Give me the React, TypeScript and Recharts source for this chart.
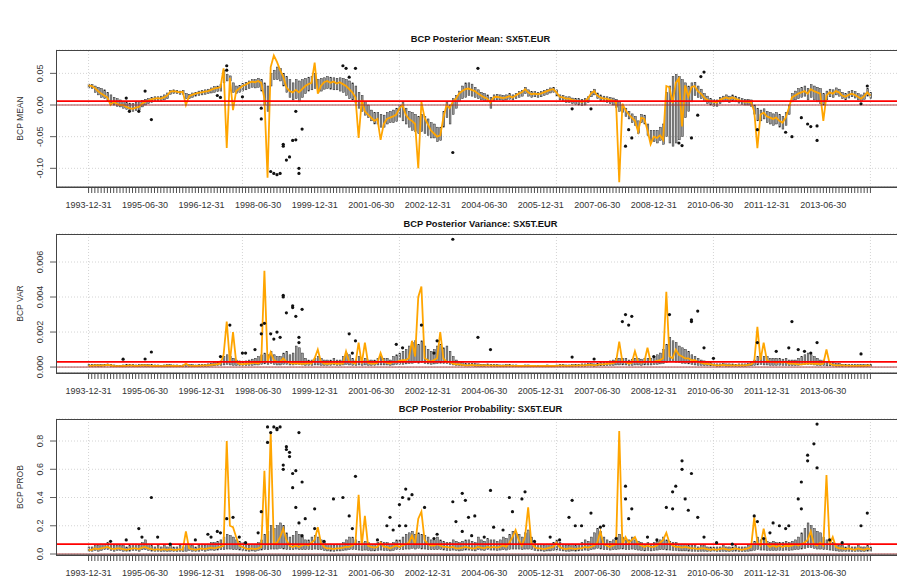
import React from "react";
import {
  ComposedChart,
  Bar,
  Line,
  XAxis,
  YAxis,
  CartesianGrid,
  ReferenceLine,
} from "recharts";

// monthly categories, month-end dates from 1993-12-31
const MONTHS = 250;
const dates = Array.from({ length: MONTHS }, (_, i) =>
  new Date(Date.UTC(1993, 12 + i, 0)).toISOString().slice(0, 10)
);

const xLabels = [
  "1993-12-31", "1995-06-30", "1996-12-31", "1998-06-30", "1999-12-31",
  "2001-06-30", "2002-12-31", "2004-06-30", "2005-12-31", "2007-06-30",
  "2008-12-31", "2010-06-30", "2011-12-31", "2013-06-30",
];
// R grid() verticals fall on every 50th box
const gridDates = [dates[0], dates[49], dates[99], dates[149], dates[199], dates[249]];

// ---------- BCP posterior mean ----------
const meanLine = [
  0.031, 0.03, 0.027, 0.022, 0.018, 0.015, 0.012, 0.0, 0.005, 0.002,
  0.0, 0.0, -0.003, -0.005, -0.006, -0.004, -0.003, 0.002, 0.005, 0.007,
  0.009, 0.01, 0.011, 0.01, 0.012, 0.015, 0.021, 0.022, 0.021, 0.02,
  0.021, 0.0, 0.014, 0.016, 0.018, 0.019, 0.02, 0.021, 0.022, 0.024,
  0.026, 0.027, 0.028, 0.058, -0.068, 0.043, -0.008, 0.022, 0.026, 0.03,
  0.032, 0.035, 0.037, 0.036, 0.038, 0.035, 0.01, -0.115, 0.06, 0.078,
  0.068, 0.055, 0.045, 0.028, 0.022, 0.02, 0.024, 0.02, 0.025, 0.03,
  0.033, 0.035, 0.067, 0.018, 0.03, 0.036, 0.038, 0.035, 0.037, 0.034,
  0.036, 0.033, 0.03, 0.025, 0.02, 0.012, -0.052, 0.008, -0.01, -0.015,
  -0.02, -0.025, -0.022, -0.055, -0.03, -0.022, -0.02, -0.018, -0.015, -0.005,
  0.0, -0.015, -0.022, -0.025, -0.03, -0.1, 0.005, -0.02, -0.03, -0.04,
  -0.045, -0.05, -0.048, -0.02, 0.0, -0.005, 0.005, 0.01, 0.018, 0.022,
  0.025, 0.026, 0.024, 0.022, 0.018, 0.015, 0.012, 0.01, 0.004, 0.012,
  0.013, 0.012, 0.011, 0.012, 0.014, 0.012, 0.015, 0.018, 0.02, 0.025,
  0.02, 0.017, 0.018, 0.017, 0.018, 0.02, 0.022, 0.024, 0.025, 0.02,
  0.013, 0.012, 0.01, 0.01, 0.008, 0.007, 0.006, 0.005, 0.006, 0.01,
  0.018, 0.022, 0.015, 0.012, 0.01, 0.01, 0.008, 0.007, 0.004, -0.122,
  0.002, -0.008, -0.015, -0.02, -0.025, -0.042, -0.02, -0.022, -0.04, -0.062,
  -0.05, -0.052, -0.048, -0.055, 0.03, 0.028, 0.003, 0.035, 0.042, -0.034,
  0.031, 0.013, 0.028, 0.03, 0.022, 0.018, 0.012, 0.008, 0.006, 0.005,
  0.004, 0.008, 0.01, 0.012, 0.01, 0.012, 0.01, 0.008, 0.006, 0.005,
  0.005, 0.004, -0.01, -0.068, -0.015, -0.012, -0.018, -0.02, -0.022, -0.02,
  -0.025, -0.028, -0.02, -0.005, 0.012, 0.015, 0.018, 0.02, 0.022, 0.018,
  0.025, 0.022, 0.02, 0.018, -0.025, 0.015, 0.02, 0.018, 0.022, 0.02,
  0.015, 0.013, 0.016, 0.018, 0.016, 0.013, 0.01, 0.014, 0.02, 0.015,
];
const meanHi = [
  0.033, 0.032, 0.03, 0.028, 0.026, 0.024, 0.02, 0.016, 0.012, 0.01,
  0.008, 0.006, 0.004, 0.003, 0.002, 0.004, 0.005, 0.007, 0.009, 0.01,
  0.012, 0.013, 0.013, 0.014, 0.016, 0.019, 0.023, 0.024, 0.023, 0.022,
  0.023, 0.018, 0.017, 0.019, 0.02, 0.022, 0.023, 0.024, 0.025, 0.027,
  0.029, 0.03, 0.032, 0.055, 0.048, 0.046, 0.035, 0.03, 0.031, 0.034,
  0.036, 0.038, 0.04, 0.04, 0.042, 0.04, 0.035, 0.03, 0.05, 0.055,
  0.06, 0.058, 0.05, 0.045, 0.04, 0.035, 0.04, 0.038, 0.04, 0.042,
  0.044, 0.045, 0.05, 0.04, 0.042, 0.043, 0.045, 0.044, 0.043, 0.042,
  0.043, 0.042, 0.04, 0.038, 0.035, 0.03, 0.02, 0.015, 0.005, 0.0,
  -0.008, -0.012, -0.012, -0.015, -0.016, -0.012, -0.01, -0.008, -0.005, 0.0,
  0.005, -0.005, -0.01, -0.012, -0.015, -0.018, -0.015, -0.018, -0.022, -0.028,
  -0.03, -0.035, -0.035, -0.01, 0.005, 0.0, 0.01, 0.015, 0.022, 0.03,
  0.035, 0.035, 0.033, 0.028, 0.024, 0.02, 0.018, 0.016, 0.012, 0.016,
  0.017, 0.016, 0.015, 0.016, 0.018, 0.016, 0.018, 0.021, 0.023, 0.028,
  0.024, 0.021, 0.021, 0.02, 0.021, 0.023, 0.025, 0.027, 0.028, 0.024,
  0.016, 0.015, 0.013, 0.013, 0.011, 0.01, 0.01, 0.009, 0.01, 0.013,
  0.021, 0.025, 0.019, 0.016, 0.014, 0.013, 0.012, 0.011, 0.009, 0.005,
  0.0, -0.005, -0.01, -0.014, -0.018, -0.025, -0.015, -0.016, -0.03, -0.04,
  -0.04, -0.04, -0.035, -0.03, 0.02, 0.03, 0.045, 0.048, 0.045, 0.04,
  0.035, 0.03, 0.035, 0.036, 0.03, 0.025, 0.018, 0.014, 0.01, 0.009,
  0.008, 0.012, 0.014, 0.016, 0.014, 0.016, 0.014, 0.012, 0.01, 0.009,
  0.009, 0.008, 0.0, -0.005, -0.008, -0.006, -0.01, -0.012, -0.014, -0.012,
  -0.015, -0.018, -0.012, 0.0, 0.018, 0.022, 0.026, 0.028, 0.03, 0.026,
  0.032, 0.03, 0.028, 0.026, 0.018, 0.022, 0.025, 0.024, 0.027, 0.025,
  0.02, 0.018, 0.021, 0.023, 0.021, 0.018, 0.016, 0.019, 0.026, 0.02,
];
const meanLo = [
  0.027, 0.026, 0.02, 0.016, 0.012, 0.01, 0.006, 0.003, 0.0, -0.002,
  -0.003, -0.005, -0.007, -0.009, -0.01, -0.009, -0.008, -0.003, 0.0, 0.002,
  0.004, 0.006, 0.007, 0.007, 0.008, 0.01, 0.017, 0.018, 0.018, 0.017,
  0.017, 0.01, 0.01, 0.012, 0.014, 0.015, 0.016, 0.017, 0.018, 0.019,
  0.02, 0.021, 0.022, 0.035, 0.038, 0.038, 0.02, 0.018, 0.02, 0.022,
  0.024, 0.026, 0.028, 0.027, 0.028, 0.022, 0.0, -0.01, 0.03, 0.04,
  0.04, 0.038, 0.03, 0.02, 0.012, 0.008, 0.01, 0.005, 0.012, 0.018,
  0.022, 0.024, 0.026, 0.02, 0.022, 0.025, 0.026, 0.025, 0.024, 0.024,
  0.022, 0.02, 0.015, 0.01, 0.008, 0.003, -0.005, -0.01, -0.016, -0.02,
  -0.025, -0.03, -0.03, -0.035, -0.035, -0.03, -0.028, -0.028, -0.026, -0.02,
  -0.025, -0.03, -0.035, -0.04, -0.042, -0.045, -0.042, -0.045, -0.048, -0.052,
  -0.052, -0.058, -0.056, -0.035, -0.02, -0.03, -0.015, -0.005, 0.005, 0.01,
  0.012, 0.015, 0.014, 0.012, 0.01, 0.008, 0.006, 0.005, -0.005, 0.006,
  0.008, 0.008, 0.007, 0.008, 0.009, 0.008, 0.01, 0.012, 0.014, 0.018,
  0.014, 0.012, 0.013, 0.012, 0.013, 0.015, 0.017, 0.019, 0.02, 0.014,
  0.008, 0.006, 0.004, 0.004, 0.002, 0.001, 0.0, -0.001, 0.0, 0.004,
  0.013, 0.016, 0.01, 0.006, 0.005, 0.004, 0.002, 0.0, -0.004, -0.01,
  -0.012, -0.018, -0.022, -0.028, -0.032, -0.045, -0.028, -0.03, -0.048, -0.058,
  -0.058, -0.06, -0.056, -0.062, -0.05, -0.06, -0.065, -0.06, -0.055, -0.05,
  -0.02, -0.01, 0.005, 0.015, 0.012, 0.01, 0.006, 0.002, 0.0, -0.002,
  -0.002, 0.002, 0.005, 0.006, 0.004, 0.006, 0.005, 0.003, 0.001, 0.0,
  0.0, -0.002, -0.015, -0.025, -0.025, -0.022, -0.028, -0.03, -0.032, -0.03,
  -0.035, -0.038, -0.032, -0.015, 0.005, 0.008, 0.01, 0.012, 0.014, 0.008,
  0.012, 0.008, 0.005, 0.002, 0.0, 0.008, 0.013, 0.012, 0.016, 0.014,
  0.01, 0.008, 0.011, 0.013, 0.011, 0.008, 0.005, 0.009, 0.014, 0.01,
];
// [month index, value]
const meanOutliers = [
  [12, 0.011], [13, -0.01], [16, -0.01], [18, 0.022], [20, -0.023],
  [41, 0.015], [42, 0.012], [44, 0.062], [44, 0.055], [49, 0.013],
  [55, -0.005], [55, -0.022], [58, -0.105], [59, -0.108], [60, -0.11],
  [61, -0.108], [62, -0.065], [62, -0.062], [63, -0.087], [64, -0.082],
  [65, -0.056], [66, -0.055], [66, -0.01], [67, -0.1], [67, -0.108],
  [68, -0.038], [81, 0.062], [82, 0.058], [83, 0.044], [85, 0.058],
  [116, -0.075], [124, 0.058], [154, -0.006], [160, -0.006],
  [171, -0.065], [172, -0.039], [173, -0.052], [188, -0.06], [189, -0.064],
  [192, -0.052], [194, -0.016], [195, 0.045], [196, 0.052], [213, -0.039],
  [222, -0.043], [224, -0.05], [227, -0.02], [229, -0.03], [230, -0.034],
  [232, -0.056], [232, -0.033], [246, 0.002], [248, 0.03],
];
const meanTicks = [-0.1, -0.05, 0, 0.05];
const meanLevel = 0.006;

// ---------- BCP posterior variance ----------
const varLine = [
  0.00008, 0.00007, 0.0001, 0.00009, 0.00008, 0.0001, 0.00012, 0.0001, 0.00006, 0.00005,
  0.00005, 0.00006, 0.00007, 0.00009, 0.00008, 0.00006, 0.00007, 0.0001, 0.00009, 0.00008,
  0.00007, 0.00006, 0.00006, 0.00005, 0.00006, 0.00008, 0.00007, 0.00006, 0.00006, 0.00005,
  0.00006, 0.0002, 0.00008, 0.00007, 0.00006, 0.00007, 0.00008, 0.00009, 0.0001, 0.00012,
  0.00014, 0.00016, 0.0002, 0.0007, 0.0026, 0.0003, 0.002, 0.0003, 0.00018, 0.00016,
  0.00018, 0.0002, 0.00022, 0.00025, 0.0002, 0.0003, 0.0055, 0.0003, 0.00085, 0.0004,
  0.0003, 0.0003, 0.0005, 0.0003, 0.00025, 0.0002, 0.00022, 0.0002, 0.00018, 0.0002,
  0.00022, 0.0002, 0.0005, 0.001, 0.0003, 0.0002, 0.00018, 0.0002, 0.00022, 0.00018,
  0.0002, 0.0002, 0.0009, 0.0003, 0.00025, 0.0002, 0.0014, 0.0002, 0.0014, 0.00025,
  0.0002, 0.0002, 0.00025, 0.0008, 0.0003, 0.00025, 0.0002, 0.0003, 0.0003, 0.00035,
  0.0004, 0.0004, 0.0005, 0.0015, 0.0006, 0.004, 0.0046, 0.0005, 0.0004, 0.0003,
  0.0004, 0.0005, 0.002, 0.0005, 0.0003, 0.0003, 0.0002, 0.00015, 0.00015, 0.00012,
  0.0001, 0.0001, 0.00012, 0.0001, 0.0001, 0.00009, 0.00009, 0.0001, 0.00008, 0.00008,
  0.00008, 0.00007, 0.00007, 0.00008, 0.00008, 0.00007, 0.00007, 0.00006, 0.00006, 0.00007,
  0.00007, 0.00006, 0.00006, 0.00005, 0.00006, 0.00006, 0.00007, 0.00006, 0.00006, 0.00007,
  0.00008, 0.00008, 0.00007, 0.00007, 0.00008, 0.00008, 0.00009, 0.0001, 0.0001, 0.00012,
  0.00012, 0.0001, 0.00012, 0.00015, 0.00015, 0.00018, 0.0002, 0.00022, 0.0003, 0.00145,
  0.0003, 0.0003, 0.0002, 0.00025, 0.0009, 0.0003, 0.00025, 0.0003, 0.0011, 0.0003,
  0.0003, 0.00035, 0.0004, 0.0005, 0.0043, 0.0006, 0.0005, 0.001, 0.0007, 0.0006,
  0.0005, 0.0005, 0.0004, 0.0004, 0.0003, 0.00025, 0.0002, 0.00018, 0.00015, 0.00012,
  0.0001, 0.0001, 0.00012, 0.0001, 0.0001, 0.0001, 0.00009, 0.0001, 0.0001, 0.0001,
  0.00012, 0.00015, 0.0003, 0.0023, 0.0004, 0.0014, 0.0004, 0.0003, 0.0003, 0.00025,
  0.0003, 0.00025, 0.0003, 0.0002, 0.0002, 0.00018, 0.00015, 0.00015, 0.00018, 0.0002,
  0.0002, 0.00018, 0.0002, 0.00015, 0.0002, 0.001, 0.0002, 0.00012, 0.0001, 0.0001,
  0.00009, 0.00008, 0.00008, 0.00007, 0.00007, 0.00008, 0.00007, 0.00007, 0.0001, 0.00008,
];
const varHi = [
  0.00015, 0.00014, 0.00016, 0.00015, 0.00014, 0.00016, 0.00018, 0.00016, 0.00012, 0.0001,
  0.0001, 0.00012, 0.00013, 0.00015, 0.00014, 0.00012, 0.00013, 0.00016, 0.00015, 0.00014,
  0.00013, 0.00012, 0.00012, 0.0001, 0.00012, 0.00014, 0.00013, 0.00012, 0.00012, 0.0001,
  0.00012, 0.00015, 0.00014, 0.00013, 0.00012, 0.00013, 0.00014, 0.00016, 0.00018, 0.0002,
  0.00025, 0.0003, 0.00035, 0.0006, 0.0007, 0.0006, 0.0005, 0.0004, 0.00035, 0.0003,
  0.00035, 0.0004, 0.00045, 0.0005, 0.0006, 0.0007, 0.0008, 0.0007, 0.0009, 0.0007,
  0.0006, 0.0006, 0.0008, 0.0009, 0.0007, 0.0008, 0.0012, 0.0011, 0.0008, 0.0005,
  0.0004, 0.0004, 0.0005, 0.0006, 0.0005, 0.0004, 0.0004, 0.0004, 0.0005, 0.0004,
  0.0004, 0.0006, 0.0008, 0.0007, 0.0005, 0.0004, 0.0006, 0.0004, 0.0005, 0.0004,
  0.0004, 0.0004, 0.0005, 0.0006, 0.0005, 0.0005, 0.0004, 0.0006, 0.0007, 0.0008,
  0.0009, 0.001, 0.0012, 0.0014, 0.0015, 0.0013, 0.0015, 0.0012, 0.001, 0.0009,
  0.001, 0.0012, 0.0013, 0.0011, 0.0012, 0.0009, 0.0006, 0.0004, 0.0003, 0.00025,
  0.0002, 0.0002, 0.00022, 0.0002, 0.00018, 0.00016, 0.00016, 0.00018, 0.00015, 0.00014,
  0.00014, 0.00012, 0.00012, 0.00014, 0.00014, 0.00012, 0.00012, 0.0001, 0.0001, 0.00012,
  0.00012, 0.0001, 0.0001, 0.0001, 0.0001, 0.0001, 0.00012, 0.0001, 0.0001, 0.00012,
  0.00014, 0.00014, 0.00012, 0.00012, 0.00014, 0.00014, 0.00016, 0.00018, 0.00018, 0.0002,
  0.0002, 0.00018, 0.0002, 0.00025, 0.00025, 0.0003, 0.00035, 0.0004, 0.0005, 0.0005,
  0.0005, 0.0005, 0.0004, 0.00045, 0.0005, 0.0005, 0.00045, 0.0005, 0.0005, 0.0005,
  0.0006, 0.0007, 0.0008, 0.001, 0.0013, 0.0017, 0.0015, 0.0014, 0.0012, 0.0011,
  0.001, 0.0009, 0.0007, 0.0006, 0.0005, 0.0004, 0.00035, 0.0003, 0.00025, 0.0002,
  0.00018, 0.00018, 0.0002, 0.00018, 0.00018, 0.00018, 0.00016, 0.00018, 0.00018, 0.00018,
  0.0002, 0.00025, 0.0004, 0.0006, 0.0007, 0.0006, 0.0006, 0.0005, 0.0005, 0.0005,
  0.0005, 0.00045, 0.0005, 0.0004, 0.0004, 0.0004, 0.0005, 0.0006, 0.0007, 0.0008,
  0.0007, 0.0006, 0.0005, 0.0004, 0.0004, 0.0003, 0.0003, 0.00025, 0.0002, 0.0002,
  0.00016, 0.00014, 0.00014, 0.00013, 0.00013, 0.00014, 0.00013, 0.00013, 0.00016, 0.00014,
];
const varLo = [
  0.00004, 0.00003, 0.00005, 0.00004, 0.00004, 0.00005, 0.00006, 0.00005, 0.00003, 0.00002,
  0.00002, 0.00003, 0.00003, 0.00004, 0.00004, 0.00003, 0.00003, 0.00005, 0.00004, 0.00004,
  0.00003, 0.00003, 0.00003, 0.00002, 0.00003, 0.00004, 0.00003, 0.00003, 0.00003, 0.00002,
  0.00003, 0.00004, 0.00004, 0.00003, 0.00003, 0.00003, 0.00004, 0.00004, 0.00005, 0.00006,
  0.00007, 0.00008, 0.0001, 0.00012, 0.00015, 0.00012, 0.0001, 0.00009, 0.00008, 0.00008,
  0.00009, 0.0001, 0.0001, 0.00012, 0.00012, 0.00015, 0.00018, 0.00015, 0.0002, 0.00015,
  0.00012, 0.00012, 0.00015, 0.00015, 0.00012, 0.00012, 0.00015, 0.00014, 0.00012, 0.0001,
  0.0001, 0.0001, 0.00012, 0.00012, 0.0001, 0.0001, 0.0001, 0.0001, 0.00012, 0.0001,
  0.0001, 0.00012, 0.00015, 0.00012, 0.0001, 0.0001, 0.00012, 0.0001, 0.00012, 0.0001,
  0.0001, 0.0001, 0.00012, 0.00012, 0.00012, 0.00012, 0.0001, 0.00012, 0.00014, 0.00015,
  0.00016, 0.00018, 0.0002, 0.00022, 0.00025, 0.00022, 0.00025, 0.0002, 0.00018, 0.00016,
  0.00018, 0.0002, 0.00022, 0.0002, 0.0002, 0.00016, 0.00012, 0.0001, 0.00008, 0.00007,
  0.00006, 0.00006, 0.00006, 0.00005, 0.00005, 0.00004, 0.00004, 0.00005, 0.00004, 0.00004,
  0.00004, 0.00003, 0.00003, 0.00004, 0.00004, 0.00003, 0.00003, 0.00003, 0.00003, 0.00003,
  0.00003, 0.00003, 0.00003, 0.00002, 0.00003, 0.00003, 0.00003, 0.00003, 0.00003, 0.00003,
  0.00004, 0.00004, 0.00003, 0.00003, 0.00004, 0.00004, 0.00004, 0.00005, 0.00005, 0.00006,
  0.00006, 0.00005, 0.00006, 0.00007, 0.00007, 0.00008, 0.0001, 0.0001, 0.00012, 0.00012,
  0.00012, 0.00012, 0.0001, 0.0001, 0.00012, 0.00012, 0.0001, 0.00012, 0.00012, 0.00012,
  0.00014, 0.00015, 0.00018, 0.0002, 0.00025, 0.0003, 0.0003, 0.00028, 0.00025, 0.00022,
  0.0002, 0.00018, 0.00015, 0.00012, 0.0001, 0.0001, 0.00008, 0.00008, 0.00007, 0.00006,
  0.00005, 0.00005, 0.00006, 0.00005, 0.00005, 0.00005, 0.00004, 0.00005, 0.00005, 0.00005,
  0.00006, 0.00007, 0.0001, 0.00012, 0.00014, 0.00012, 0.00012, 0.0001, 0.0001, 0.0001,
  0.0001, 0.0001, 0.0001, 0.00008, 0.00008, 0.00008, 0.0001, 0.00012, 0.00014, 0.00015,
  0.00014, 0.00012, 0.0001, 0.00008, 0.00008, 0.00007, 0.00007, 0.00006, 0.00005, 0.00005,
  0.00004, 0.00004, 0.00004, 0.00003, 0.00003, 0.00004, 0.00003, 0.00003, 0.00004, 0.00004,
];
const varOutliers = [
  [11, 0.00045], [18, 0.00046], [20, 0.00086], [42, 0.0006], [45, 0.0024],
  [49, 0.0008], [50, 0.0008], [53, 0.001], [55, 0.0024], [55, 0.0019],
  [56, 0.0025], [58, 0.0019], [59, 0.0016], [60, 0.002], [61, 0.0017],
  [62, 0.0041], [62, 0.004], [63, 0.0031], [65, 0.0035], [65, 0.0034],
  [66, 0.0029], [67, 0.0017], [67, 0.0014], [68, 0.0033], [83, 0.0019],
  [84, 0.0008], [85, 0.0015], [98, 0.0013], [100, 0.0011], [106, 0.0024],
  [110, 0.0008], [111, 0.0015], [116, 0.0073], [124, 0.0017], [128, 0.001],
  [154, 0.00057], [161, 0.00046], [170, 0.0026], [171, 0.003], [172, 0.0024],
  [173, 0.0029], [180, 0.0006], [185, 0.003], [192, 0.0027], [192, 0.0026],
  [194, 0.0032], [196, 0.0011], [199, 0.0005], [213, 0.0014], [219, 0.0009],
  [223, 0.0011], [224, 0.0026], [226, 0.001], [228, 0.0009], [230, 0.0008],
  [232, 0.0014], [246, 0.00075],
];
const varTicks = [0, 0.002, 0.004, 0.006];
const varLevel = 0.0003;

// ---------- BCP posterior probability ----------
const probLine = [
  0.03, 0.03, 0.04, 0.035, 0.04, 0.045, 0.05, 0.04, 0.035, 0.04,
  0.04, 0.035, 0.03, 0.035, 0.04, 0.04, 0.035, 0.045, 0.05, 0.04,
  0.035, 0.03, 0.035, 0.03, 0.035, 0.03, 0.035, 0.03, 0.03, 0.035,
  0.03, 0.16, 0.04, 0.035, 0.03, 0.035, 0.04, 0.035, 0.04, 0.045,
  0.04, 0.045, 0.05, 0.06, 0.8, 0.2, 0.19, 0.12, 0.06, 0.05,
  0.04, 0.035, 0.04, 0.035, 0.04, 0.05, 0.59, 0.06, 0.865, 0.07,
  0.08, 0.12, 0.18, 0.1, 0.06, 0.05, 0.06, 0.05, 0.06, 0.07,
  0.06, 0.08, 0.1, 0.19, 0.08, 0.05, 0.04, 0.04, 0.035, 0.04,
  0.04, 0.045, 0.05, 0.05, 0.06, 0.08, 0.42, 0.06, 0.27, 0.06,
  0.05, 0.045, 0.05, 0.08, 0.05, 0.05, 0.04, 0.05, 0.06, 0.05,
  0.06, 0.07, 0.08, 0.13, 0.07, 0.25, 0.3, 0.1, 0.07, 0.06,
  0.06, 0.07, 0.06, 0.05, 0.05, 0.045, 0.05, 0.04, 0.04, 0.045,
  0.05, 0.045, 0.04, 0.04, 0.05, 0.045, 0.04, 0.05, 0.045, 0.05,
  0.045, 0.05, 0.06, 0.05, 0.08, 0.12, 0.17, 0.1, 0.06, 0.12,
  0.33, 0.08, 0.05, 0.04, 0.04, 0.035, 0.04, 0.045, 0.05, 0.08,
  0.05, 0.04, 0.035, 0.04, 0.04, 0.035, 0.04, 0.04, 0.05, 0.045,
  0.05, 0.06, 0.08, 0.16, 0.07, 0.06, 0.05, 0.06, 0.07, 0.87,
  0.07, 0.12, 0.08, 0.1, 0.12, 0.07, 0.06, 0.05, 0.06, 0.05,
  0.05, 0.06, 0.08, 0.1, 0.15, 0.08, 0.06, 0.05, 0.05, 0.045,
  0.05, 0.045, 0.04, 0.04, 0.035, 0.04, 0.04, 0.035, 0.03, 0.035,
  0.03, 0.035, 0.04, 0.035, 0.03, 0.035, 0.04, 0.035, 0.03, 0.035,
  0.04, 0.05, 0.26, 0.08, 0.06, 0.18, 0.07, 0.05, 0.06, 0.05,
  0.06, 0.05, 0.06, 0.055, 0.06, 0.07, 0.06, 0.07, 0.08, 0.1,
  0.16, 0.07, 0.06, 0.08, 0.06, 0.56, 0.07, 0.12, 0.05, 0.04,
  0.04, 0.035, 0.04, 0.035, 0.03, 0.04, 0.035, 0.03, 0.04, 0.035,
];
const probHi = [
  0.05, 0.05, 0.06, 0.06, 0.07, 0.07, 0.08, 0.07, 0.06, 0.06,
  0.06, 0.06, 0.05, 0.06, 0.07, 0.07, 0.06, 0.08, 0.1, 0.07,
  0.06, 0.05, 0.06, 0.05, 0.06, 0.05, 0.06, 0.05, 0.05, 0.06,
  0.05, 0.07, 0.06, 0.06, 0.05, 0.06, 0.07, 0.06, 0.07, 0.08,
  0.08, 0.09, 0.1, 0.12, 0.14, 0.13, 0.12, 0.1, 0.09, 0.08,
  0.07, 0.06, 0.07, 0.07, 0.08, 0.1, 0.14, 0.16, 0.2, 0.18,
  0.2, 0.22, 0.2, 0.15, 0.12, 0.13, 0.16, 0.14, 0.12, 0.1,
  0.1, 0.12, 0.13, 0.12, 0.1, 0.08, 0.07, 0.07, 0.06, 0.07,
  0.07, 0.08, 0.1, 0.12, 0.12, 0.1, 0.09, 0.08, 0.09, 0.08,
  0.07, 0.07, 0.08, 0.09, 0.08, 0.08, 0.07, 0.08, 0.1, 0.1,
  0.12, 0.14, 0.15, 0.16, 0.14, 0.15, 0.14, 0.13, 0.12, 0.1,
  0.1, 0.12, 0.1, 0.09, 0.08, 0.08, 0.1, 0.09, 0.08, 0.09,
  0.1, 0.1, 0.09, 0.08, 0.12, 0.1, 0.09, 0.11, 0.1, 0.1,
  0.09, 0.1, 0.12, 0.11, 0.14, 0.16, 0.15, 0.14, 0.12, 0.15,
  0.17, 0.12, 0.08, 0.07, 0.07, 0.06, 0.07, 0.07, 0.08, 0.1,
  0.08, 0.07, 0.06, 0.06, 0.07, 0.06, 0.07, 0.08, 0.1, 0.09,
  0.12, 0.15, 0.18, 0.16, 0.12, 0.1, 0.09, 0.1, 0.12, 0.14,
  0.12, 0.1, 0.1, 0.12, 0.1, 0.09, 0.08, 0.07, 0.08, 0.07,
  0.08, 0.09, 0.1, 0.12, 0.1, 0.09, 0.08, 0.08, 0.07, 0.07,
  0.07, 0.06, 0.06, 0.06, 0.05, 0.06, 0.06, 0.05, 0.05, 0.05,
  0.05, 0.05, 0.06, 0.05, 0.05, 0.05, 0.06, 0.05, 0.05, 0.05,
  0.06, 0.07, 0.09, 0.12, 0.1, 0.1, 0.09, 0.08, 0.09, 0.08,
  0.08, 0.08, 0.09, 0.08, 0.09, 0.1, 0.12, 0.15, 0.18, 0.22,
  0.2, 0.18, 0.16, 0.15, 0.12, 0.1, 0.09, 0.08, 0.07, 0.06,
  0.06, 0.05, 0.06, 0.05, 0.05, 0.06, 0.05, 0.05, 0.06, 0.05,
];
const probLo = [
  0.02, 0.02, 0.025, 0.02, 0.025, 0.03, 0.03, 0.025, 0.02, 0.025,
  0.025, 0.02, 0.02, 0.02, 0.025, 0.025, 0.02, 0.03, 0.03, 0.025,
  0.02, 0.02, 0.02, 0.018, 0.02, 0.018, 0.02, 0.018, 0.018, 0.02,
  0.018, 0.02, 0.025, 0.02, 0.018, 0.02, 0.025, 0.02, 0.025, 0.028,
  0.025, 0.028, 0.03, 0.03, 0.035, 0.035, 0.03, 0.03, 0.028, 0.025,
  0.022, 0.02, 0.022, 0.02, 0.025, 0.028, 0.03, 0.03, 0.035, 0.035,
  0.035, 0.04, 0.035, 0.03, 0.03, 0.03, 0.035, 0.03, 0.03, 0.03,
  0.03, 0.03, 0.035, 0.03, 0.03, 0.025, 0.022, 0.02, 0.02, 0.022,
  0.022, 0.025, 0.028, 0.03, 0.03, 0.03, 0.028, 0.025, 0.028, 0.025,
  0.022, 0.022, 0.025, 0.028, 0.025, 0.025, 0.022, 0.025, 0.03, 0.03,
  0.03, 0.035, 0.035, 0.04, 0.035, 0.04, 0.035, 0.035, 0.03, 0.03,
  0.03, 0.03, 0.03, 0.028, 0.025, 0.025, 0.028, 0.025, 0.022, 0.025,
  0.028, 0.028, 0.025, 0.022, 0.03, 0.028, 0.025, 0.03, 0.028, 0.028,
  0.025, 0.028, 0.03, 0.028, 0.032, 0.035, 0.035, 0.035, 0.03, 0.035,
  0.035, 0.03, 0.025, 0.022, 0.022, 0.02, 0.022, 0.022, 0.025, 0.028,
  0.025, 0.022, 0.02, 0.02, 0.022, 0.02, 0.022, 0.025, 0.028, 0.025,
  0.03, 0.035, 0.04, 0.035, 0.03, 0.03, 0.028, 0.03, 0.03, 0.035,
  0.035, 0.03, 0.03, 0.035, 0.03, 0.028, 0.025, 0.022, 0.025, 0.022,
  0.025, 0.028, 0.03, 0.03, 0.028, 0.028, 0.025, 0.025, 0.022, 0.022,
  0.022, 0.02, 0.02, 0.02, 0.018, 0.02, 0.02, 0.018, 0.018, 0.018,
  0.018, 0.018, 0.02, 0.018, 0.018, 0.018, 0.02, 0.018, 0.018, 0.018,
  0.02, 0.022, 0.025, 0.03, 0.028, 0.028, 0.025, 0.025, 0.025, 0.025,
  0.025, 0.025, 0.028, 0.025, 0.028, 0.03, 0.032, 0.035, 0.04, 0.045,
  0.045, 0.04, 0.035, 0.035, 0.03, 0.03, 0.028, 0.025, 0.022, 0.02,
  0.02, 0.018, 0.02, 0.018, 0.018, 0.02, 0.018, 0.018, 0.02, 0.018,
];
const probOutliers = [
  [7, 0.09], [12, 0.1], [16, 0.18], [17, 0.12], [20, 0.4], [22, 0.12],
  [34, 0.1], [38, 0.14], [39, 0.12], [41, 0.16], [42, 0.15], [44, 0.25],
  [46, 0.26], [48, 0.12], [54, 0.15], [55, 0.3], [57, 0.9], [57, 0.79],
  [58, 0.86], [59, 0.9], [60, 0.89], [60, 0.88], [61, 0.9], [62, 0.63],
  [62, 0.6], [63, 0.76], [63, 0.74], [64, 0.69], [64, 0.72], [65, 0.47],
  [65, 0.57], [66, 0.59], [66, 0.33], [67, 0.86], [67, 0.22], [68, 0.51],
  [68, 0.13], [69, 0.25], [72, 0.32], [72, 0.18], [78, 0.39], [81, 0.4],
  [83, 0.27], [84, 0.18], [85, 0.55], [95, 0.2], [96, 0.26], [97, 0.17],
  [99, 0.35], [99, 0.2], [100, 0.4], [101, 0.46], [101, 0.2], [102, 0.39],
  [103, 0.42], [107, 0.33], [111, 0.14], [116, 0.37], [117, 0.23],
  [119, 0.43], [119, 0.16], [120, 0.38], [121, 0.26], [122, 0.13],
  [123, 0.27], [128, 0.45], [129, 0.19], [132, 0.17], [134, 0.4],
  [135, 0.3], [138, 0.39], [139, 0.44], [147, 0.12], [153, 0.26],
  [154, 0.38], [155, 0.2], [157, 0.2], [160, 0.29], [163, 0.19],
  [164, 0.2], [171, 0.48], [171, 0.39], [172, 0.25], [173, 0.32],
  [178, 0.12], [184, 0.33], [186, 0.44], [186, 0.32], [187, 0.48],
  [189, 0.66], [189, 0.6], [190, 0.39], [191, 0.31], [192, 0.57],
  [194, 0.26], [196, 0.12], [212, 0.27], [213, 0.23], [217, 0.15],
  [218, 0.22], [220, 0.2], [222, 0.18], [223, 0.2], [226, 0.39],
  [227, 0.51], [227, 0.32], [229, 0.66], [229, 0.7], [231, 0.78],
  [232, 0.92], [232, 0.61], [246, 0.2], [248, 0.29],
  [26, 0.07], [50, 0.08], [75, 0.09], [92, 0.1], [110, 0.11],
  [126, 0.12], [142, 0.09], [150, 0.1], [168, 0.11], [181, 0.1],
  [200, 0.08], [205, 0.07], [215, 0.11], [236, 0.1], [240, 0.08],
];
const probTicks = [0, 0.2, 0.4, 0.6, 0.8];
const probLevel = 0.07;

const FONT = "'Liberation Sans', Arial, Helvetica, sans-serif";
const CHART_W = 920;
const PLOT_LEFT = 56;
const PLOT_RIGHT = 905;

const panels = [
  {
    title: "BCP Posterior Mean: SX5T.EUR", yTitle: "BCP MEAN",
    line: meanLine, lo: meanLo, hi: meanHi, out: meanOutliers,
    ticks: meanTicks, digits: 2, level: meanLevel,
    domain: [-0.1295, 0.0869], top: 50, bottom: 187, titleY: 42,
  },
  {
    title: "BCP Posterior Variance: SX5T.EUR", yTitle: "BCP VAR",
    line: varLine, lo: varLo, hi: varHi, out: varOutliers,
    ticks: varTicks, digits: 3, level: varLevel,
    domain: [-0.00034, 0.0076], top: 234, bottom: 373, titleY: 226.5,
  },
  {
    title: "BCP Posterior Probability: SX5T.EUR", yTitle: "BCP PROB",
    line: probLine, lo: probLo, hi: probHi, out: probOutliers,
    ticks: probTicks, digits: 1, level: probLevel,
    domain: [-0.007, 0.956], top: 419, bottom: 555, titleY: 411.5,
  },
];

function buildRows(p: any) {
  const rows: any[] = dates.map((date, i) => ({
    date,
    line: p.line[i],
    box: [p.lo[i], p.hi[i]],
  }));
  let slots = 0;
  p.out.forEach(([i, v]: number[]) => {
    let k = 0;
    while (rows[i]["o" + k] != null) k++;
    rows[i]["o" + k] = v;
    slots = Math.max(slots, k + 1);
  });
  return { rows, slots };
}

const BoxShape = (props: any) => {
  const { x, y, width, height } = props;
  if (x == null || y == null || isNaN(y)) return <g />;
  const top = height < 0 ? y + height : y;
  const h = Math.max(Math.abs(height), 1.2);
  return (
    <rect
      x={x + width / 2 - 0.9}
      y={top}
      width={1.8}
      height={h}
      fill="#9a9a9a"
      stroke="#1f1f1f"
      strokeWidth={0.45}
    />
  );
};

const OutDot = (props: any) => {
  const { cx, cy, value } = props;
  if (value == null || cy == null || isNaN(cy)) return <g />;
  return <circle cx={cx} cy={cy} r={1.6} fill="#111" />;
};

const makeXTick = (labelY: number) => (props: any) => {
  const v = props.payload?.value;
  if (!xLabels.includes(v)) return <g />;
  return (
    <text x={props.x} y={labelY} textAnchor="middle" fontSize={9} fill="#333" fontFamily={FONT}>
      {v}
    </text>
  );
};

const makeYTick = (digits: number) => (props: any) => {
  const y = props.y;
  return (
    <text
      x={43.5}
      y={y}
      transform={`rotate(-90, 43.5, ${y})`}
      textAnchor="middle"
      fontSize={9}
      fill="#333"
      fontFamily={FONT}
    >
      {Number(props.payload.value).toFixed(digits)}
    </text>
  );
};

function Panel({ p }: { p: any }) {
  const { rows, slots } = buildRows(p);
  const height = p.bottom + 33;
  return (
    <div style={{ position: "absolute", left: 0, top: 0 }}>
      <ComposedChart
        width={CHART_W}
        height={height}
        data={rows}
        margin={{ top: p.top, right: CHART_W - PLOT_RIGHT, bottom: 0, left: 0 }}
        barCategoryGap={0}
      >
        <CartesianGrid vertical={false} stroke="#d4d4d4" strokeDasharray="1 2" />
        <XAxis
          dataKey="date"
          interval={0}
          height={33}
          padding={{ left: 31, right: 33 }}
          tickSize={6}
          tickLine={{ stroke: "#222", strokeWidth: 0.8 }}
          axisLine={{ stroke: "#444" }}
          tick={makeXTick(p.bottom + 21)}
        />
        <YAxis
          type="number"
          domain={p.domain}
          ticks={p.ticks}
          allowDataOverflow
          width={PLOT_LEFT}
          tickSize={6}
          axisLine={false}
          tickLine={{ stroke: "#333", strokeWidth: 0.8 }}
          tick={makeYTick(p.digits)}
        />
        {gridDates.map((d) => (
          <ReferenceLine key={d} x={d} stroke="#d4d4d4" strokeDasharray="1 2" />
        ))}
        <Bar dataKey="box" barSize={2} shape={BoxShape} isAnimationActive={false} />
        {Array.from({ length: slots }, (_, k) => (
          <Line
            key={k}
            dataKey={"o" + k}
            stroke="none"
            dot={OutDot}
            activeDot={false}
            isAnimationActive={false}
            connectNulls={false}
            legendType="none"
          />
        ))}
        <Line
          dataKey="line"
          type="linear"
          stroke="#FFA500"
          strokeWidth={1.8}
          dot={false}
          activeDot={false}
          isAnimationActive={false}
        />
        <ReferenceLine y={0} stroke="#a03030" strokeWidth={0.9} />
        <ReferenceLine y={p.level} stroke="#ff0000" strokeWidth={1.7} />
      </ComposedChart>
    </div>
  );
}

export default function App() {
  return (
    <div
      style={{
        position: "absolute",
        left: 0,
        top: 0,
        width: 897,
        height: 579,
        overflow: "hidden",
        background: "#fff",
      }}
    >
      {panels.map((p) => (
        <Panel key={p.title} p={p} />
      ))}
      <svg
        width={897}
        height={579}
        style={{ position: "absolute", left: 0, top: 0, pointerEvents: "none" }}
      >
        {panels.map((p) => {
          const cy = (p.top + p.bottom) / 2;
          return (
            <g key={p.title}>
              <rect
                x={PLOT_LEFT + 0.5}
                y={p.top + 0.5}
                width={PLOT_RIGHT - PLOT_LEFT}
                height={p.bottom - p.top}
                fill="none"
                stroke="#444"
                strokeWidth={1}
              />
              <text
                x={(PLOT_LEFT + PLOT_RIGHT) / 2}
                y={p.titleY}
                textAnchor="middle"
                fontSize={9.3}
                fontWeight="bold"
                fill="#111"
                fontFamily={FONT}
              >
                {p.title}
              </text>
              <text
                x={22.5}
                y={cy}
                transform={`rotate(-90, 22.5, ${cy})`}
                textAnchor="middle"
                fontSize={8.5}
                fill="#333"
                fontFamily={FONT}
              >
                {p.yTitle}
              </text>
            </g>
          );
        })}
      </svg>
    </div>
  );
}
